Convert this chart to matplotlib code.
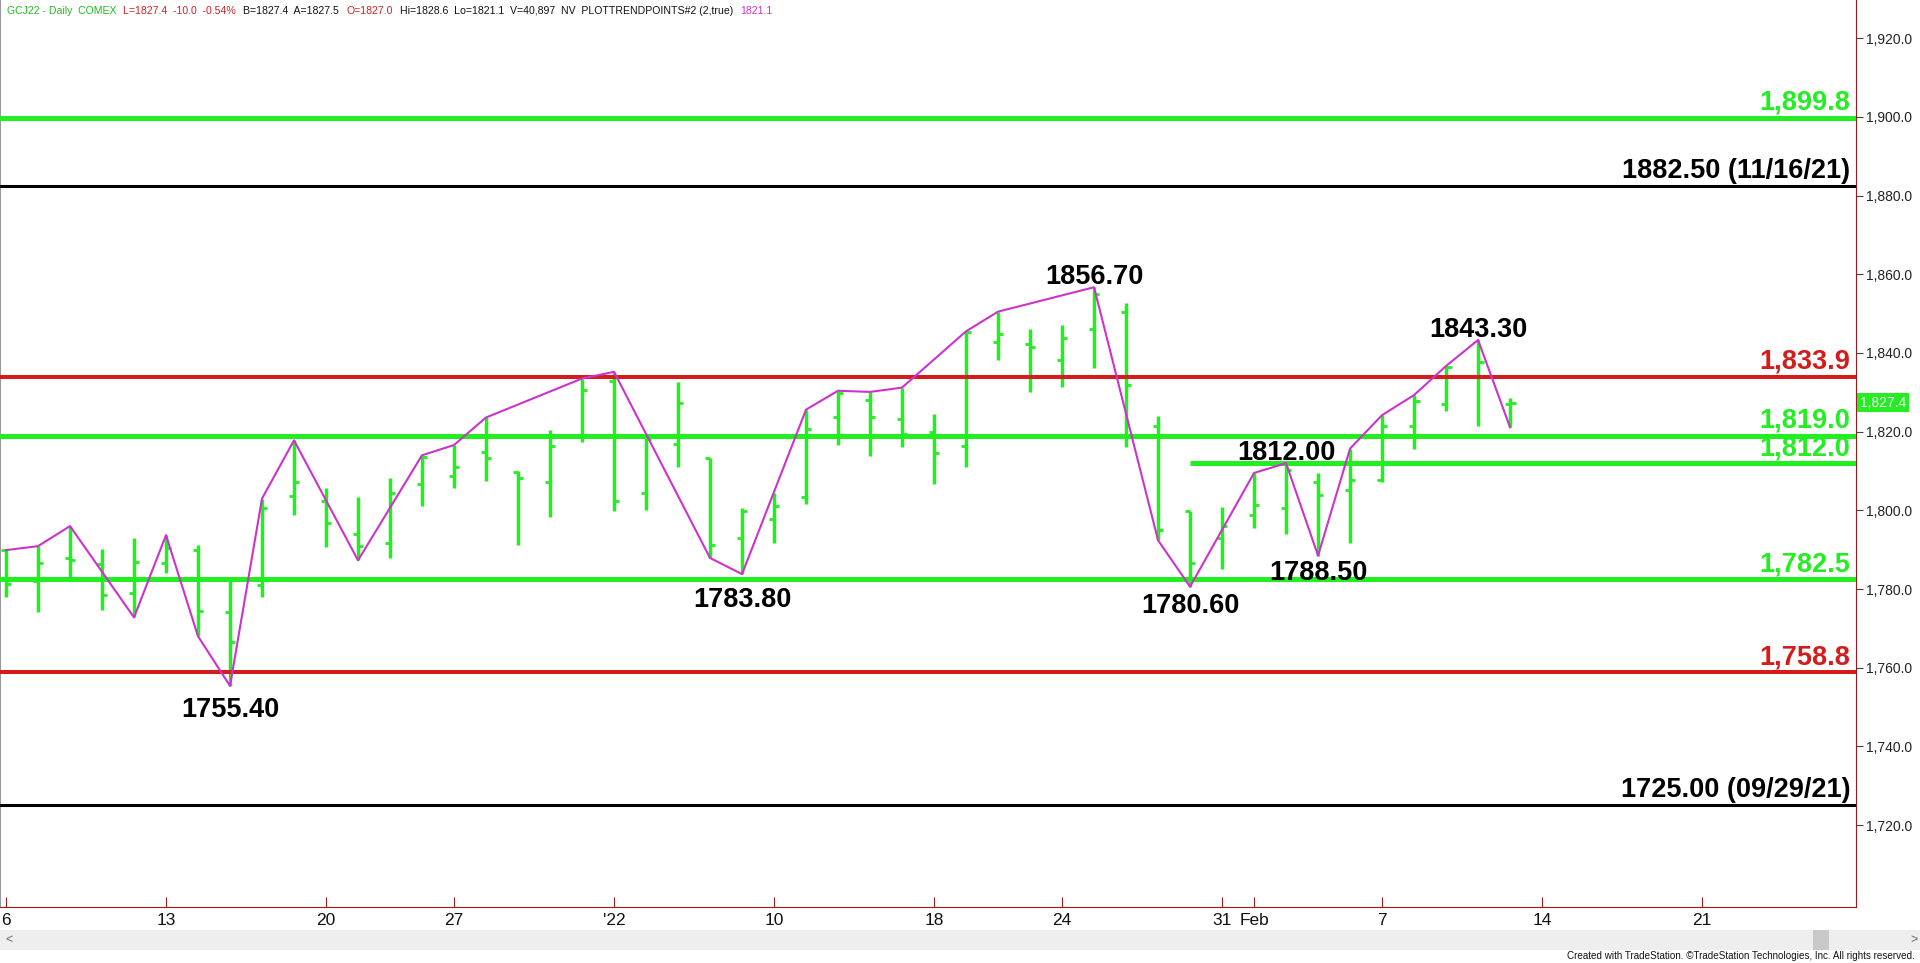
import pandas as pd
import matplotlib
matplotlib.use("Agg")
import matplotlib.pyplot as plt
from matplotlib import font_manager
from matplotlib.patches import Rectangle

# GCJ22 daily bars, Dec 6 2021 .. Feb 11 2022
opens = [1789.9, 1782.1, 1787.8, 1786.4, 1778.9, 1786.5, 1789.9, 1774.1, 1781.0, 1803.6,
         1802.4, 1794.1, 1791.6, 1806.6, 1808.8, 1814.8, 1809.8, 1807.1, 1818.9, 1832.9,
         1804.3, 1816.8, 1813.2, 1792.9, 1797.7, 1803.4, 1823.8, 1828.0, 1823.3, 1819.8,
         1816.3, 1842.8, 1842.4, 1838.2, 1846.0, 1850.5, 1821.4, 1799.9, 1792.9, 1798.8,
         1800.5, 1807.3, 1805.3, 1807.7, 1821.4, 1827.0, 1834.1, 1827.0]
highs = [1789.9, 1790.9, 1796.0, 1790.3, 1793.1, 1793.7, 1791.3, 1783.1, 1803.0, 1817.8,
         1805.6, 1803.5, 1808.1, 1814.0, 1816.6, 1823.6, 1810.0, 1820.4, 1833.5, 1835.2,
         1818.9, 1832.7, 1813.4, 1800.6, 1804.3, 1825.6, 1830.4, 1830.1, 1831.2, 1824.6,
         1845.5, 1850.5, 1846.0, 1847.2, 1856.7, 1852.8, 1824.1, 1799.9, 1800.9, 1809.5,
         1812.0, 1809.5, 1815.7, 1824.2, 1829.3, 1836.7, 1843.3, 1828.6]
lows = [1778.0, 1774.1, 1782.4, 1774.8, 1772.8, 1784.1, 1768.0, 1755.4, 1777.9, 1798.8,
        1790.7, 1787.3, 1788.0, 1801.2, 1805.6, 1807.5, 1791.3, 1798.2, 1817.4, 1799.9,
        1800.2, 1811.1, 1787.9, 1783.8, 1791.6, 1801.7, 1816.6, 1813.9, 1816.1, 1806.8,
        1811.1, 1838.2, 1830.1, 1831.4, 1836.2, 1816.1, 1792.4, 1780.6, 1785.2, 1795.6,
        1794.1, 1788.5, 1791.6, 1807.3, 1815.5, 1825.2, 1821.4, 1821.1]
closes = [1781.2, 1786.6, 1787.3, 1778.6, 1786.8, 1790.5, 1774.4, 1766.6, 1800.7, 1807.1,
          1796.7, 1791.0, 1804.5, 1813.6, 1810.9, 1813.2, 1808.3, 1816.4, 1830.7, 1802.3,
          1818.1, 1827.4, 1791.3, 1799.8, 1801.1, 1820.8, 1829.7, 1823.8, 1819.5, 1814.7,
          1845.4, 1844.7, 1841.5, 1843.9, 1854.9, 1831.8, 1795.0, 1786.5, 1796.0, 1801.3,
          1810.2, 1803.9, 1807.7, 1821.5, 1827.8, 1836.5, 1837.8, 1827.4]

holidays = ["2021-12-24", "2022-01-17"]
sessions = [d.strftime("%Y-%m-%d") for d in pd.bdate_range("2021-12-06", "2022-03-04")
            if d.strftime("%Y-%m-%d") not in holidays]

tick_dates = ["2021-12-06", "2021-12-13", "2021-12-20", "2021-12-27", "2022-01-03",
              "2022-01-10", "2022-01-18", "2022-01-24", "2022-01-31", "2022-02-01",
              "2022-02-07", "2022-02-14", "2022-02-21"]
tick_labels = ["6", "13", "20", "27", "'22", "10", "18", "24", "31", "Feb", "7", "14", "21"]

# PLOTTRENDPOINTS zigzag: bar index + which end of the bar
trend_bars = [0, 1, 2, 4, 5, 6, 7, 8, 9, 11, 13, 14, 15, 18, 19, 22, 23, 25, 26, 27, 28,
              30, 31, 34, 36, 37, 39, 40, 41, 42, 43, 44, 45, 46, 47]
trend_side = "HHHLHLLHHLHHHHHLLHHHHHHHLLHHLHHHHHL"

swing_bars = [7, 23, 34, 37, 40, 41, 46]
swing_side = "LLHLHLH"

level_values = [1899.8, 1882.5, 1833.9, 1819.0, 1812.0, 1782.5, 1758.8, 1725.0]
level_labels = ["1,899.8", "1882.50 (11/16/21)", "1,833.9", "1,819.0", "1,812.0",
                "1,782.5", "1,758.8", "1725.00 (09/29/21)"]
level_kind = ["support", "old", "resist", "support", "support", "support", "resist", "old"]
level_from = [None, None, None, None, 37, None, None, None]

header = [("GCJ22 - Daily  COMEX", "#22BB22"),
          ("L=1827.4  -10.0  -0.54%", "#CC2222"),
          ("B=1827.4  A=1827.5", "#111111"),
          ("O=1827.0", "#CC2222"),
          ("Hi=1828.6  Lo=1821.1  V=40,897  NV  PLOTTRENDPOINTS#2 (2,true)", "#111111"),
          ("1821.1", "#CC33CC")]
header_x = [4, 106, 214, 326, 378, 667]

GREEN = "#22EE22"
RED = "#D41C1C"
MAGENTA = "#CC33CC"
AXRED = "#9B1B1B"
kind_style = {"support": (GREEN, 3.6), "resist": (RED, 2.9), "old": ("black", 2.2)}
kind_text = {"support": GREEN, "resist": RED, "old": "black"}
BOLD = ["Liberation Sans", "DejaVu Sans"]

have_narrow = "Liberation Sans Narrow" in {f.name for f in font_manager.fontManager.ttflist}
NARROW = ["Liberation Sans Narrow", "DejaVu Sans"] if have_narrow else BOLD
small_size = 9.5 if have_narrow else 7.6

fig = plt.figure(figsize=(19.2, 9.63), dpi=100)
ax = fig.add_axes([0, 56 / 963, 1856 / 1920, 907 / 963])

x = list(range(len(closes)))
ax.vlines(x, lows, highs, color=GREEN, lw=2.5, zorder=3)
ax.hlines(opens, [i - 0.17 for i in x], x, color=GREEN, lw=2.0, zorder=3)
ax.hlines(closes, x, [i + 0.17 for i in x], color=GREEN, lw=2.0, zorder=3)

for val, lab, kind, start in zip(level_values, level_labels, level_kind, level_from):
    col, lw = kind_style[kind]
    x0 = -1 if start is None else start
    ax.plot([x0, 60], [val, val], color=col, lw=lw, zorder=4, solid_capstyle="butt")
    ax.annotate(lab, xy=(0.997, val), xycoords=("axes fraction", "data"),
                xytext=(0, 2), textcoords="offset pixels", ha="right", va="bottom",
                fontsize=19.5, fontweight="bold", color=kind_text[kind],
                family=BOLD, zorder=3.5)

ty = [highs[i] if s == "H" else lows[i] for i, s in zip(trend_bars, trend_side)]
ax.plot(trend_bars, ty, color=MAGENTA, lw=1.5, zorder=5)

low_dy = iter([-11, -13, -6, -4])
for i, s in zip(swing_bars, swing_side):
    if s == "H":
        ax.annotate(f"{highs[i]:.2f}", xy=(i, highs[i]), xytext=(0, -3),
                    textcoords="offset pixels", ha="center", va="bottom",
                    fontsize=19.5, fontweight="bold", family=BOLD, zorder=6)
    else:
        ax.annotate(f"{lows[i]:.2f}", xy=(i, lows[i]), xytext=(0, next(low_dy)),
                    textcoords="offset pixels", ha="center", va="top",
                    fontsize=19.5, fontweight="bold", family=BOLD, zorder=6)

ax.set_xlim(-0.1875, 57.81)
ax.set_ylim(1699.2, 1929.7)

ax.set_xticks([sessions.index(d) for d in tick_dates])
ax.set_xticklabels(tick_labels, family=NARROW, fontsize=12.5, color="#111111")
ax.tick_params(axis="x", direction="in", length=7, color=AXRED, pad=4)

yt = list(range(1720, 1921, 20))
ax.yaxis.tick_right()
ax.set_yticks(yt)
ax.set_yticklabels([f"{v:,.1f}" for v in yt], family=BOLD, fontsize=10, color="#222222")
ax.tick_params(axis="y", direction="out", length=5, color="#444444", pad=2)

ax.spines["top"].set_visible(False)
ax.spines["right"].set_color(AXRED)
ax.spines["bottom"].set_color(AXRED)
ax.spines["left"].set_color("#999999")

# last price marker on the price scale
ax.annotate(f"{closes[-1]:,.1f}", xy=(1.0, closes[-1]), xycoords=("axes fraction", "data"),
            xytext=(4, 0), textcoords="offset pixels", ha="left", va="center",
            fontsize=10, color="white", family=BOLD, annotation_clip=False,
            bbox=dict(boxstyle="square,pad=0.2", fc=GREEN, ec="none"))

# header line, laid out left to right without overlaps
renderer = fig.canvas.get_renderer()
prev_end = 0
for (txt, col), px in zip(header, header_x):
    px = max(px, prev_end + 7)
    t = fig.text(px / 1920, 1 - 11 / 963, txt, color=col, fontsize=small_size, family=NARROW,
                 ha="left", va="center")
    prev_end = t.get_window_extent(renderer).x1

# scroll bar and footer
fig.patches.append(Rectangle((0, 1 - 950 / 963), 1, 20 / 963, transform=fig.transFigure,
                             fc="#EEEEEE", ec="none"))
fig.patches.append(Rectangle((1813 / 1920, 1 - 950 / 963), 16 / 1920, 20 / 963,
                             transform=fig.transFigure, fc="#C8C8C8", ec="none"))
fig.text(5 / 1920, 1 - 940 / 963, "<", fontsize=9, color="#666666", va="center", family=NARROW)
fig.text(1910 / 1920, 1 - 940 / 963, ">", fontsize=9, color="#666666", va="center", family=NARROW)
fig.text(1915 / 1920, 1 - 956 / 963,
         "Created with TradeStation. \u00a9TradeStation Technologies, Inc. All rights reserved.",
         fontsize=small_size - 0.5, color="#111111", ha="right", va="center", family=NARROW)

fig.savefig("out.png", dpi=100, facecolor="white")
